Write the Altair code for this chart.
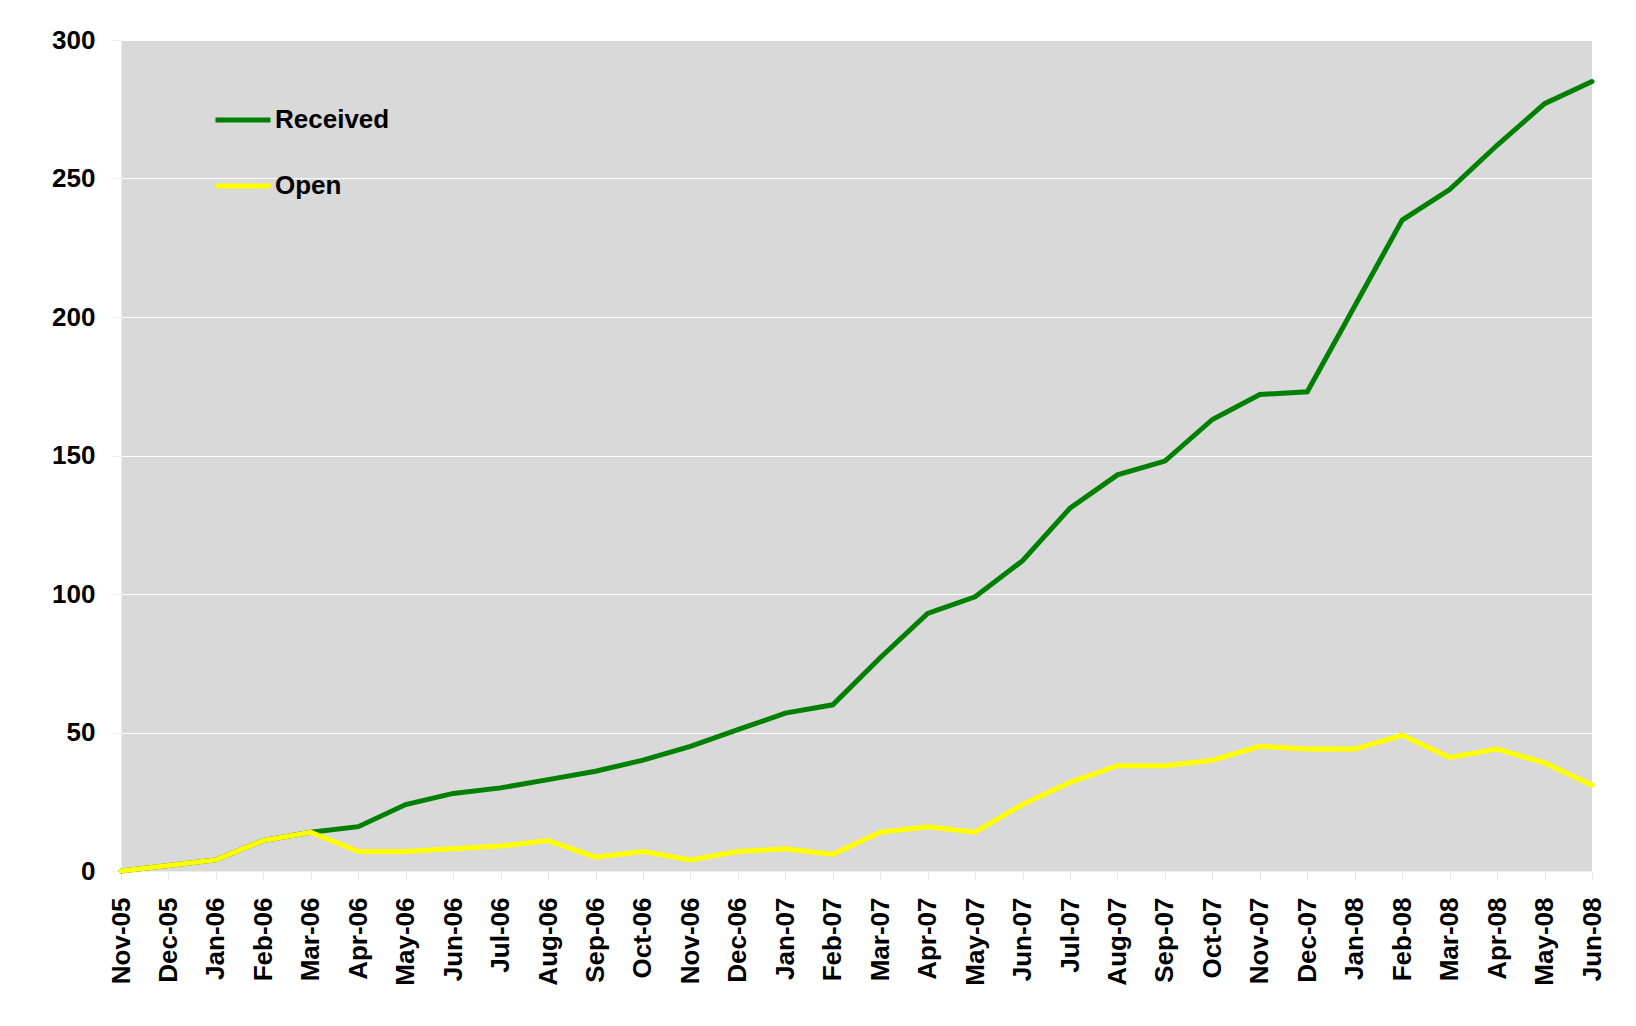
import altair as alt
import pandas as pd

months = ["Nov-05", "Dec-05", "Jan-06", "Feb-06", "Mar-06", "Apr-06", "May-06", "Jun-06",
          "Jul-06", "Aug-06", "Sep-06", "Oct-06", "Nov-06", "Dec-06", "Jan-07", "Feb-07",
          "Mar-07", "Apr-07", "May-07", "Jun-07", "Jul-07", "Aug-07", "Sep-07", "Oct-07",
          "Nov-07", "Dec-07", "Jan-08", "Feb-08", "Mar-08", "Apr-08", "May-08", "Jun-08"]

received = [0, 2, 4, 11, 14, 16, 24, 28, 30, 33, 36, 40, 45, 51, 57, 60,
            77, 93, 99, 112, 131, 143, 148, 163, 172, 173, 204, 235, 246, 262, 277, 285]

open_items = [0, 2, 4, 11, 14, 7, 7, 8, 9, 11, 5, 7, 4, 7, 8, 6,
              14, 16, 14, 24, 32, 38, 38, 40, 45, 44, 44, 49, 41, 44, 39, 31]

series_names = ["Received", "Open"]
series_colors = ["#008000", "#ffff00"]

rows = []
for m, v in zip(months, received):
    rows.append({"month": m, "series": "Received", "value": v})
for m, v in zip(months, open_items):
    rows.append({"month": m, "series": "Open", "value": v})
df = pd.DataFrame(rows)

FONT = "Liberation Sans"

chart = alt.Chart(df).mark_line(strokeWidth=5, strokeCap="round").encode(
    x=alt.X("month:O", sort=months,
            scale=alt.Scale(type="point", padding=0),
            axis=alt.Axis(title=None, labelAngle=-90, labelFont=FONT, labelFontSize=26,
                          labelFontWeight="bold", labelColor="black", labelPadding=17,
                          tickSize=9, tickColor="#e8e8e8", domainColor="#eeeeee",
                          grid=False)),
    y=alt.Y("value:Q", scale=alt.Scale(domain=[0, 300], nice=False),
            axis=alt.Axis(title=None, values=[0, 50, 100, 150, 200, 250, 300],
                          labelFont=FONT, labelFontSize=26, labelFontWeight="bold",
                          labelColor="black", labelPadding=16, tickSize=10,
                          tickColor="#eeeeee", domainColor="#eeeeee",
                          grid=True, gridColor="#ffffff", gridWidth=1.2)),
    color=alt.Color("series:N", sort=series_names,
                    scale=alt.Scale(domain=series_names, range=series_colors),
                    legend=alt.Legend(title=None, orient="none", legendX=92, legendY=50,
                                      symbolType="stroke", symbolSize=3025,
                                      symbolStrokeWidth=5, labelFont=FONT,
                                      labelFontSize=26, labelFontWeight="bold",
                                      labelColor="black", labelOffset=2,
                                      rowPadding=23, padding=0)),
    order=alt.Order("series:N", sort="descending"),
).properties(
    width=1471, height=831,
    autosize=alt.AutoSizeParams(type="none"),
    padding={"left": 113, "top": 32, "right": 36, "bottom": 130},
    background="white",
).configure_view(fill="#d9d9d9", stroke=None)

chart.save("out.html", embed_options={"renderer": "svg", "actions": False})
